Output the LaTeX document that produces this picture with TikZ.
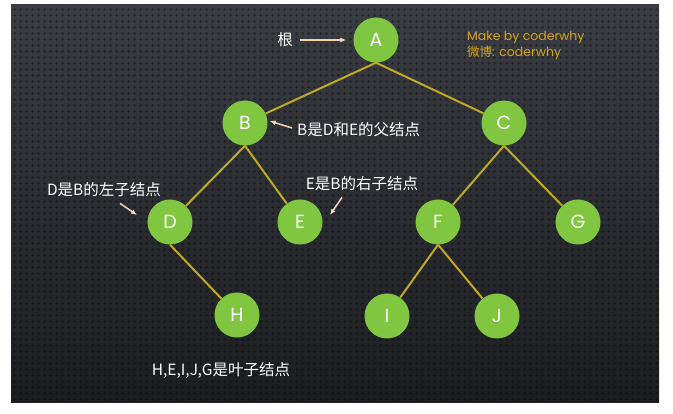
\documentclass[tikz,border=0pt]{standalone}
\usepackage{fontspec}
\setmainfont{Poppins}
\newfontfamily\cjk{Noto Sans CJK SC}
\usetikzlibrary{arrows.meta,patterns}
\usepackage{xcolor}
\definecolor{nodegreen}{RGB}{128,198,64}
\definecolor{edgeyellow}{RGB}{192,170,36}
\definecolor{notepeach}{RGB}{244,214,180}
\definecolor{signgold}{RGB}{214,164,30}
\definecolor{boardtop}{RGB}{58,61,67}
\definecolor{boardbottom}{RGB}{27,29,32}
\pgfdeclarepatternformonly{carbondots}{\pgfpointorigin}{\pgfpoint{6pt}{6pt}}{\pgfpoint{6pt}{6pt}}{%
  \pgfpathcircle{\pgfpoint{3pt}{3pt}}{1.7pt}\pgfusepath{fill}}

\begin{document}
\begin{tikzpicture}[x=1pt, y=-1pt,
  treenode/.style={circle, fill=nodegreen, minimum size=45pt, inner sep=0pt, text=white, font=\fontsize{19}{19}\selectfont},
  edge/.style={draw=edgeyellow, line width=2pt},
  note/.style={text=white, inner sep=0pt, font=\cjk\fontsize{15.5}{15.5}\selectfont},
  pointer/.style={draw=notepeach, line width=1.5pt, -{Latex[length=6pt,width=5pt]}}
]
  \useasboundingbox (0,0) rectangle (673,414);
  \fill[top color=boardtop, bottom color=boardbottom] (11,5) rectangle (659,403);
  \fill[pattern=carbondots, pattern color=black, fill opacity=0.35] (11,5) rectangle (659,403);

  % tree
  \node[treenode] (A) at (376,40) {A};
  \node[treenode] (B) at (245,123) {B};
  \node[treenode] (C) at (504,123) {C};
  \node[treenode] (D) at (170,222) {D};
  \node[treenode] (E) at (300,222) {E};
  \node[treenode] (F) at (438,222) {F};
  \node[treenode] (G) at (578,222) {G};
  \node[treenode] (H) at (237,315) {H};
  \node[treenode] (I) at (387,316) {I};
  \node[treenode] (J) at (497,316) {J};

  \draw[edge] (A.south) -- (B);
  \draw[edge] (A.south) -- (C);
  \draw[edge] (B.south) -- (D);
  \draw[edge] (B.south) -- (E);
  \draw[edge] (C.south) -- (F);
  \draw[edge] (C.south) -- (G);
  \draw[edge] (D.south) -- (H);
  \draw[edge] (F.south) -- (I);
  \draw[edge] (F.south) -- (J);

  % notes
  \node[note] (rootnote) at (285,40) {根};
  \node[note, anchor=west] (parentnote) at (297,130) {B是D和E的父结点};
  \node[note] (leftnote) at (104,190) {D是B的左子结点};
  \node[note] (rightnote) at (362,184) {E是B的右子结点};
  \node[note] (leafnote) at (221,370) {H,E,I,J,G是叶子结点};

  \coordinate (leftTip) at (137,215);
  \coordinate (rightTip) at (330,215);

  \draw[pointer] ([xshift=7pt]rootnote.east) -- ([xshift=-7pt]A.west);
  \draw[pointer] ([shift={(-5,-2)}]parentnote.west) -- ([shift={(2,-2)}]B.east);
  \draw[pointer] ([shift={(16,6)}]leftnote.south) -- (leftTip);
  \draw[pointer] ([shift={(-20,6)}]rightnote.south) -- (rightTip);

  \node[anchor=west, align=left, text=signgold, inner sep=0pt, font=\fontsize{12.5}{16}\selectfont] (sign) at (467,45) {Make by coderwhy\\{\cjk 微博}: coderwhy};
\end{tikzpicture}
\end{document}
